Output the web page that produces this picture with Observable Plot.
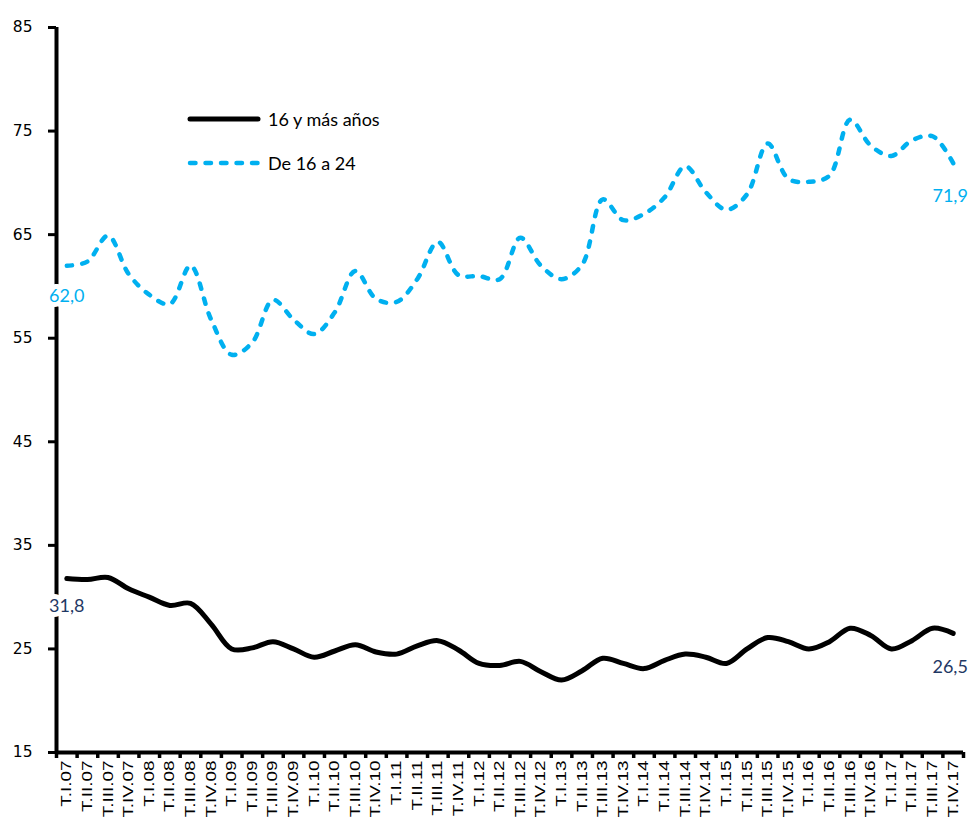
<!DOCTYPE html>
<html>
<head>
<meta charset="utf-8">
<script src="https://cdn.jsdelivr.net/npm/d3@7"></script>
<script src="https://cdn.jsdelivr.net/npm/@observablehq/plot@0.6"></script>
<style>
  html, body { margin: 0; padding: 0; background: #fff; }
  #wrap { position: relative; width: 970px; height: 823px; overflow: hidden; }
  #legend { position: absolute; left: 186px; top: 97px; font-family: Lato, "Open Sans", sans-serif; font-size: 18px; color: #000; }
  #legend .row { display: flex; align-items: center; height: 44px; }
  #legend svg { margin-right: 6px; }
</style>
</head>
<body>
<div id="wrap">
  <div id="chart"></div>
  <div id="legend">
    <div class="row"><svg width="76" height="12"><line x1="4" y1="6" x2="72" y2="6" stroke="#000" stroke-width="5" stroke-linecap="round"/></svg><span>16 y más años</span></div>
    <div class="row"><svg width="76" height="12"><line x1="4" y1="6" x2="72" y2="6" stroke="#00B0F0" stroke-width="4.5" stroke-linecap="round" stroke-dasharray="5.5,10"/></svg><span>De 16 a 24</span></div>
  </div>
</div>
<script>
// Quarter labels
const quarters = [
  "T.I.07","T.II.07","T.III.07","T.IV.07",
  "T.I.08","T.II.08","T.III.08","T.IV.08",
  "T.I.09","T.II.09","T.III.09","T.IV.09",
  "T.I.10","T.II.10","T.III.10","T.IV.10",
  "T.I.11","T.II.11","T.III.11","T.IV.11",
  "T.I.12","T.II.12","T.III.12","T.IV.12",
  "T.I.13","T.II.13","T.III.13","T.IV.13",
  "T.I.14","T.II.14","T.III.14","T.IV.14",
  "T.I.15","T.II.15","T.III.15","T.IV.15",
  "T.I.16","T.II.16","T.III.16","T.IV.16",
  "T.I.17","T.II.17","T.III.17","T.IV.17"
];
// Series: 16 y más años
const total = [
  31.8, 31.7, 31.9, 30.8, 30.0, 29.2, 29.4, 27.4, 25.0, 25.1, 25.7,
  25.0, 24.2, 24.8, 25.4, 24.7, 24.5, 25.3, 25.8, 24.9, 23.6, 23.4,
  23.8, 22.8, 22.0, 22.9, 24.1, 23.6, 23.1, 23.9, 24.5, 24.2, 23.6,
  25.0, 26.1, 25.7, 25.0, 25.7, 27.0, 26.3, 25.0, 25.8, 27.0, 26.5
];
// Series: De 16 a 24
const young = [
  62.0, 62.4, 64.9, 61.2, 59.2, 58.3, 62.0, 56.8, 53.4, 54.6, 58.7,
  56.8, 55.4, 57.5, 61.5, 58.8, 58.5, 60.7, 64.3, 61.1, 61.0, 60.7,
  64.7, 62.0, 60.7, 62.1, 68.4, 66.4, 67.0, 68.6, 71.6, 69.1, 67.4,
  68.9, 73.8, 70.4, 70.1, 70.7, 76.1, 73.6, 72.6, 74.1, 74.5, 71.9
];
const yTicks = [15, 25, 35, 45, 55, 65, 75, 85];

const n = quarters.length;
const idx = d3.range(n);
const xDomain = [-0.5, n - 0.5];
const boundaries = d3.range(n + 1).map(i => i - 0.5);
const fmt = v => v.toFixed(1).replace(".", ",");

const rowsTotal = idx.map(i => ({i, v: total[i]}));
const rowsYoung = idx.map(i => ({i, v: young[i]}));

const labelFont = "Lato, 'Open Sans', sans-serif";

const chart = Plot.plot({
  width: 970,
  height: 823,
  marginLeft: 56,
  marginRight: 7,
  marginTop: 27,
  marginBottom: 71,
  style: {background: "#fff", overflow: "visible"},
  x: {domain: xDomain, type: "linear"},
  y: {domain: [15, 85]},
  marks: [
    Plot.axisY(yTicks, {label: null, tickSize: 8, tickPadding: 16, strokeWidth: 3, fontSize: 15.5, fontFamily: "DejaVu Sans", fill: "#000", color: "#000"}),
    Plot.axisX(boundaries, {label: null, tickSize: 6, strokeWidth: 3.5, tickFormat: () => "", color: "#000"}),
    Plot.axisX(idx, {label: null, tickSize: 0, tickPadding: 8, tickRotate: -90, tickFormat: i => quarters[i], fontSize: 14, fontFamily: "Liberation Sans, Arial, sans-serif", fill: "#000"}),
    Plot.ruleX([xDomain[0]], {stroke: "#000", strokeWidth: 4}),
    Plot.ruleY([15], {stroke: "#000", strokeWidth: 4}),
    Plot.line(rowsYoung, {x: "i", y: "v", stroke: "#00B0F0", strokeWidth: 4.5, strokeDasharray: "5.5,10", strokeLinecap: "round", curve: "catmull-rom"}),
    Plot.line(rowsTotal, {x: "i", y: "v", stroke: "#000", strokeWidth: 5, strokeLinecap: "round", curve: "catmull-rom"}),
    Plot.text([rowsYoung[0]], {x: "i", y: "v", text: d => fmt(d.v), dy: 31, fill: "#00B0F0", stroke: "#fff", strokeWidth: 10, fontSize: 18, fontFamily: labelFont}),
    Plot.text([rowsTotal[0]], {x: "i", y: "v", text: d => fmt(d.v), dy: 28, fill: "#1F3864", stroke: "#fff", strokeWidth: 10, fontSize: 18, fontFamily: labelFont}),
    Plot.text([rowsYoung[n - 1]], {x: "i", y: "v", text: d => fmt(d.v), dy: 33, dx: -3, fill: "#00B0F0", fontSize: 18, fontFamily: labelFont}),
    Plot.text([rowsTotal[n - 1]], {x: "i", y: "v", text: d => fmt(d.v), dy: 34, dx: -3, fill: "#1F3864", fontSize: 18, fontFamily: labelFont})
  ]
});
document.getElementById("chart").appendChild(chart);

// stretch rotated quarter labels lengthwise to match the reference proportions
chart.querySelectorAll('g[aria-label="x-axis tick label"] text').forEach(t => {
  const tr = t.getAttribute("transform") || "";
  t.setAttribute("transform", tr + " scale(1.35,1)");
});
</script>
</body>
</html>
